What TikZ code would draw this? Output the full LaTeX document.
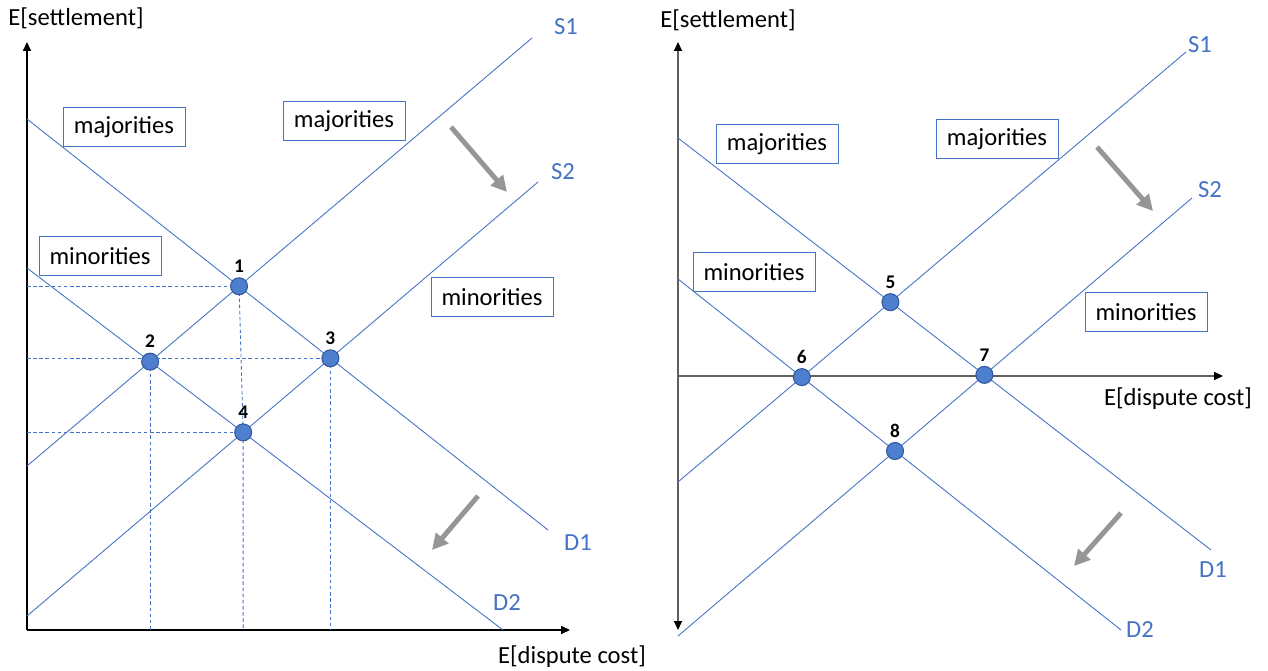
\documentclass[tikz,border=0pt]{standalone}
\usepackage{fontspec}
\setmainfont{Carlito}
\usetikzlibrary{arrows.meta}
\definecolor{lineblue}{RGB}{68,114,196}
\definecolor{dotblue}{RGB}{78,126,206}
\definecolor{dotedge}{RGB}{50,88,158}
\definecolor{shiftgray}{RGB}{150,150,150}
\definecolor{axisgray}{RGB}{95,95,95}

\begin{document}
\begin{tikzpicture}[x=0.02cm, y=-0.02cm,
    curve/.style={lineblue, line width=0.5pt},
    guide/.style={lineblue, line width=0.5pt, dash pattern=on 2pt off 1.5pt},
    axis/.style={line width=0.8pt, -{Triangle[length=5pt,width=4.5pt,color=black]}},
    dot/.style={circle, fill=dotblue, draw=dotedge, line width=0.6pt, minimum size=0.34cm, inner sep=0pt},
    num/.style={font=\fontsize{11}{13}\selectfont\bfseries, inner sep=1pt, label distance=1.5pt},
    group/.style={draw=lineblue, line width=0.5pt, fill=white, minimum width=2.44cm, minimum height=0.78cm, inner sep=2pt, font=\fontsize{14}{16}\selectfont},
    tag/.style={text=lineblue, font=\fontsize{14}{16}\selectfont},
    axlabel/.style={font=\fontsize{14}{16}\selectfont},
    shiftarrow/.style={shiftgray, line width=2.8pt, -{Triangle[length=9pt,width=9pt]}}]
    \useasboundingbox (0,0) rectangle (1268,671);

    % left panel
    \coordinate (O1) at (27,630);
    \coordinate (d1a) at (27,119);  \coordinate (d1b) at (548,530);
    \coordinate (d2a) at (27,268);  \coordinate (d2b) at (503,630);
    \coordinate (s1a) at (27,466);  \coordinate (s1b) at (532,38);
    \coordinate (s2a) at (27,616);  \coordinate (s2b) at (538,182);

    \draw[axis] (O1) -- (27,42);
    \draw[axis] (O1) -- (570,630);

    \draw[curve] (d1a) -- (d1b);
    \draw[curve] (d2a) -- (d2b);
    \draw[curve] (s1a) -- (s1b);
    \draw[curve] (s2a) -- (s2b);

    \coordinate (p1) at (intersection of d1a--d1b and s1a--s1b);
    \coordinate (p2) at (intersection of d2a--d2b and s1a--s1b);
    \coordinate (p3) at (intersection of d1a--d1b and s2a--s2b);
    \coordinate (p4) at (intersection of d2a--d2b and s2a--s2b);

    \draw[guide] (p1 -| O1) -- (p1);
    \draw[guide] (p3 -| O1) -- (p3);
    \draw[guide] (p4 -| O1) -- (p4);
    \draw[guide] (p2) -- (p2 |- O1);
    \draw[guide] (p1) -- (p4) -- (p4 |- O1);
    \draw[guide] (p3) -- (p3 |- O1);

    \foreach \p in {1,...,4}{
      \node[dot, label={[num]above:\p}] (n\p) at (p\p) {};
    }

    \node[axlabel] (yl1) at (76,18) {E[settlement]};
    \node[axlabel] (xl1) at (572,657) {E[dispute cost]};
    \node[tag] (S1l) at (566,27) {S1};
    \node[tag] (S2l) at (563,172) {S2};
    \node[tag] (D1l) at (578,543) {D1};
    \node[tag] (D2l) at (507,603) {D2};

    \node[group] (maj1) at (124,127) {majorities};
    \node[group] (maj2) at (344,121) {majorities};
    \node[group] (min1) at (100,256) {minorities};
    \node[group] (min2) at (492,297) {minorities};

    \coordinate (a1) at (451,127);  \coordinate (b1) at (507,192);
    \coordinate (a2) at (478,496);  \coordinate (b2) at (432,550);
    \draw[shiftarrow] (a1) -- (b1);
    \draw[shiftarrow] (a2) -- (b2);

    % right panel
    \coordinate (O2) at (678,376);
    \coordinate (e1a) at (678,138);  \coordinate (e1b) at (1211,550);
    \coordinate (e2a) at (678,279);  \coordinate (e2b) at (1121,630);
    \coordinate (t1a) at (678,482);  \coordinate (t1b) at (1186,52);
    \coordinate (t2a) at (678,636);  \coordinate (t2b) at (1192,198);

    \draw[axis, axisgray, {Triangle[length=5pt,width=4.5pt,color=black]}-{Triangle[length=5pt,width=4.5pt,color=black]}] (678,630) -- (678,42);
    \draw[axis, axisgray] (O2) -- (1223,376);

    \draw[curve] (e1a) -- (e1b);
    \draw[curve] (e2a) -- (e2b);
    \draw[curve] (t1a) -- (t1b);
    \draw[curve] (t2a) -- (t2b);

    \coordinate (p5) at (intersection of e1a--e1b and t1a--t1b);
    \coordinate (p6) at (intersection of e2a--e2b and t1a--t1b);
    \coordinate (p7) at (intersection of e1a--e1b and t2a--t2b);
    \coordinate (p8) at (intersection of e2a--e2b and t2a--t2b);

    \foreach \p in {5,...,8}{
      \node[dot, label={[num]above:\p}] (n\p) at (p\p) {};
    }

    \node[axlabel] (yl2) at (728,20) {E[settlement]};
    \node[axlabel] (xl2) at (1178,399) {E[dispute cost]};
    \node[tag] (S1r) at (1200,45) {S1};
    \node[tag] (S2r) at (1210,190) {S2};
    \node[tag] (D1r) at (1213,570) {D1};
    \node[tag] (D2r) at (1140,630) {D2};

    \node[group] (maj3) at (777,144) {majorities};
    \node[group] (maj4) at (997,139) {majorities};
    \node[group] (min3) at (754,272) {minorities};
    \node[group] (min4) at (1146,312) {minorities};

    \coordinate (a3) at (1097,147);  \coordinate (b3) at (1153,211);
    \coordinate (a4) at (1121,513);  \coordinate (b4) at (1074,566);
    \draw[shiftarrow] (a3) -- (b3);
    \draw[shiftarrow] (a4) -- (b4);
\end{tikzpicture}
\end{document}
